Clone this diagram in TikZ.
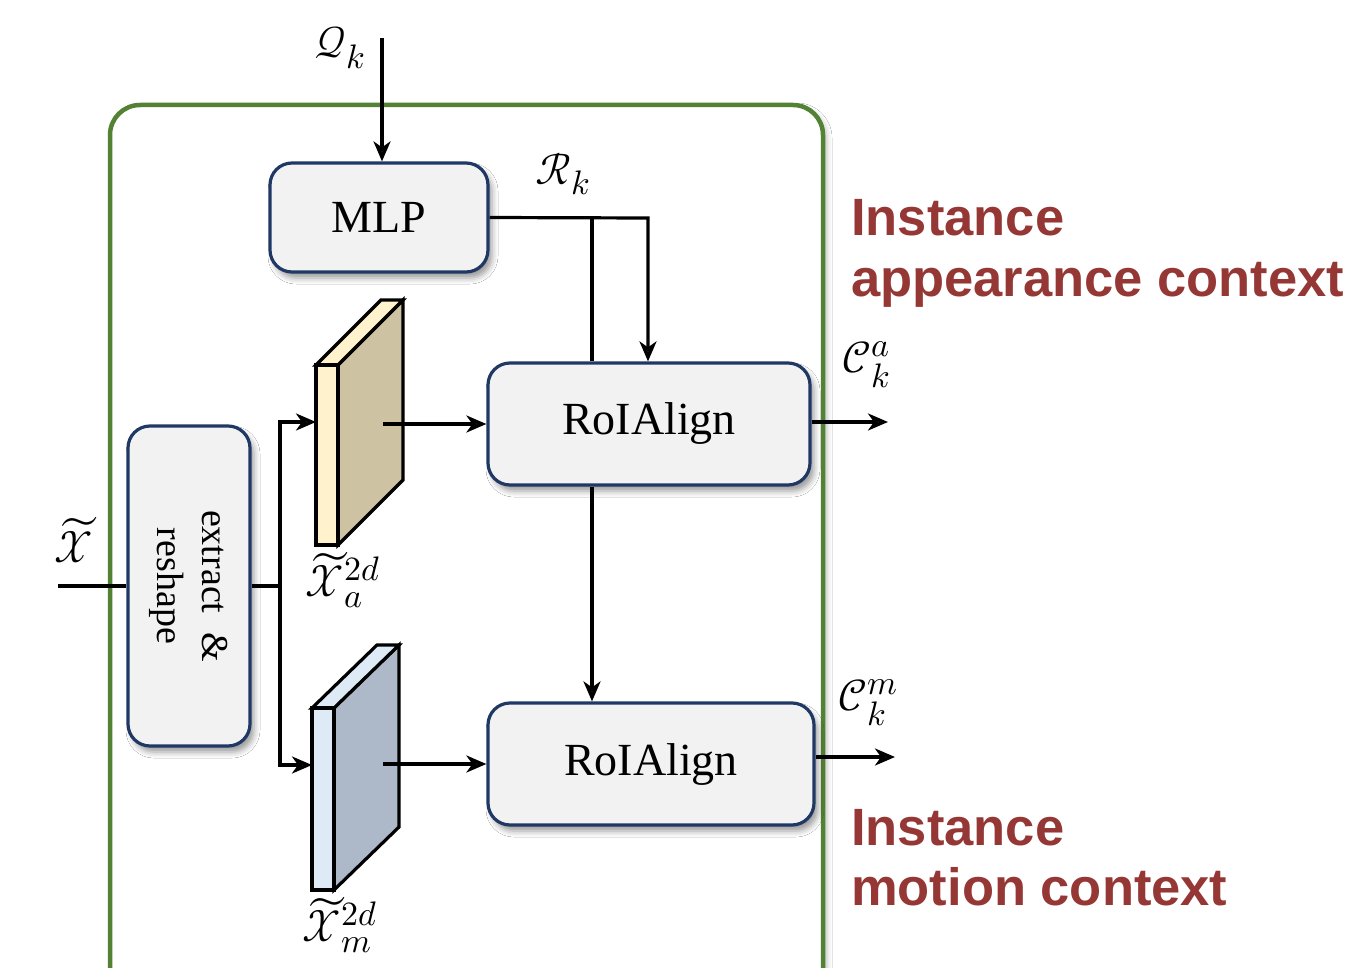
\documentclass[tikz,border=0pt]{standalone}
\usepackage{fontspec}
\usepackage{unicode-math}
\setmainfont{Liberation Serif}
\newfontfamily\ctxfont{Liberation Sans}
\DeclareMathSizes{44}{44}{34}{27}
\usetikzlibrary{arrows.meta,shadows.blur}
\definecolor{boxborder}{HTML}{1F3864}
\definecolor{boxfill}{HTML}{F2F2F2}
\definecolor{framegreen}{HTML}{548235}
\definecolor{ctxred}{HTML}{953735}
\definecolor{fafront}{HTML}{FFF2CC}
\definecolor{faside}{HTML}{CDC2A2}
\definecolor{fmfront}{HTML}{DEEBF7}
\definecolor{fmside}{HTML}{ADB9C8}
\tikzset{
  box/.style={draw=boxborder, line width=3.2pt, fill=boxfill, rounded corners=22pt,
    blur shadow={shadow xshift=4pt, shadow yshift=-6pt, shadow blur radius=6pt},
    font=\fontsize{46}{50}\selectfont, inner sep=0pt},
  conn/.style={line width=3.2pt, -{Stealth[length=20pt,width=17pt,inset=6pt]}},
  plainline/.style={line width=3.2pt},
  mathlabel/.style={font=\fontsize{44}{48}\selectfont, inner sep=0pt},
  ctxlabel/.style={font=\ctxfont\bfseries\fontsize{52.5}{60}\selectfont, text=ctxred, inner sep=0pt, anchor=base west},
  fmap/.style={draw=black, line width=3.2pt, line join=miter}
}
\begin{document}
\begin{tikzpicture}[x=1pt,y=-1pt]
\useasboundingbox (0,0) rectangle (1354,968);
\clip (0,0) rectangle (1354,968);
\fill[white] (0,0) rectangle (1354,968);
% frame
\draw[draw=framegreen, fill=white, line width=4.5pt, rounded corners=30pt,
  blur shadow={shadow xshift=4pt, shadow yshift=-3pt, shadow blur radius=5pt, shadow opacity=25}]
  (110,105) rectangle (823,1000);
% boxes
\node[box, minimum width=218pt, minimum height=109pt] (mlp) at (379,217.5) {MLP};
\node[box, minimum width=322pt, minimum height=122pt] (roi1) at (649,424) {RoIAlign};
\node[box, minimum width=326pt, minimum height=122pt] (roi2) at (651,764) {RoIAlign};
\node[box, minimum width=122pt, minimum height=320pt] (ext) at (189,586) {};
\node[rotate=-90, align=center, font=\fontsize{38}{45}\selectfont, inner sep=0pt] (extlabel) at (ext.center) {extract\ \ \&\\reshape};
% feature maps
\filldraw[fmap, fill=faside] (338,365) -- (403,300) -- (403,480) -- (338,545) -- cycle;
\filldraw[fmap, fill=fafront] (316,365) -- (381,300) -- (403,300) -- (338,365) -- cycle;
\filldraw[fmap, fill=fafront] (316,365) rectangle (338,545);
\filldraw[fmap, fill=fmside] (334,708) -- (399,645) -- (399,827) -- (334,890) -- cycle;
\filldraw[fmap, fill=fmfront] (312,708) -- (377,645) -- (399,645) -- (334,708) -- cycle;
\filldraw[fmap, fill=fmfront] (312,708) rectangle (334,890);
% coordinates
\coordinate (qtop) at (382,38);
\coordinate (xin) at (58,586);
\coordinate (split) at (280,586);
\coordinate (fa) at (316,422);
\coordinate (fm) at (312,765);
\coordinate (fao) at (383,424);
\coordinate (fmo) at (383,764);
\coordinate (rk1) at (592,218);
\coordinate (rk2) at (648,218);
\coordinate (ca) at (888,422);
\coordinate (cm) at (895,757);
% connectors
\draw[conn] (qtop) -- (qtop |- mlp.north);
\draw[plainline] (xin) -- (ext.west);
\draw[plainline] (ext.east) -- (split);
\draw[conn] (split) |- (fa);
\draw[conn] (split) |- (fm);
\draw[conn] (fao) -- (roi1.west);
\draw[conn] (fmo) -- (roi2.west);
\draw[conn] (mlp.east) -- (rk2) -- (rk2 |- roi1.north);
\draw[plainline] (rk1) -- (rk1 |- roi1.north);
\draw[conn] (rk1 |- roi1.south) -- (rk1 |- roi2.north);
\draw[conn] (roi1.east |- ca) -- (ca);
\draw[conn] (roi2.east |- cm) -- (cm);
% math labels
\node[mathlabel] (lq) at (340,48) {$\mathcal{Q}_k$};
\node[mathlabel] (lr) at (563,174) {$\mathcal{R}_k$};
\node[mathlabel] (lca) at (866,365) {$\mathcal{C}_k^a$};
\node[mathlabel] (lcm) at (868,703) {$\mathcal{C}_k^m$};
\node[mathlabel] (lx) at (74,540) {$\widetilde{\mathcal{X}}$};
\node[mathlabel] (lxa) at (343,580) {$\widetilde{\mathcal{X}}_a^{2d}$};
\node[mathlabel] (lxm) at (340,925) {$\widetilde{\mathcal{X}}_m^{2d}$};
% context labels
\node[ctxlabel] (ta1) at (851,236) {Instance};
\node[ctxlabel] (ta2) at (851,297) {appearance context};
\node[ctxlabel] (tm1) at (851,845) {Instance};
\node[ctxlabel] (tm2) at (851,905) {motion context};
\end{tikzpicture}
\end{document}
